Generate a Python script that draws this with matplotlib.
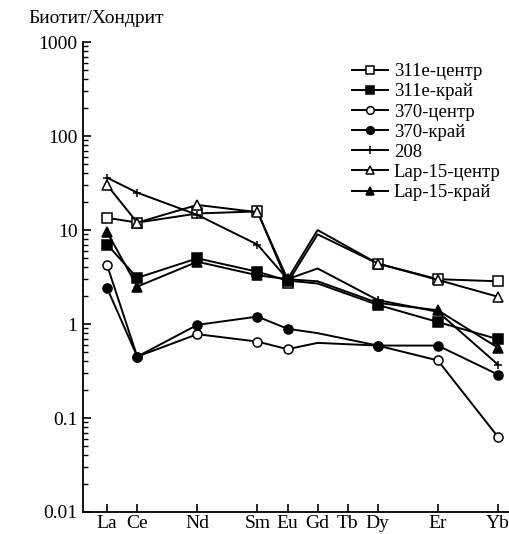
import numpy as np
import matplotlib.pyplot as plt
from matplotlib.ticker import LogLocator, NullFormatter, FixedLocator

plt.rcParams['font.family'] = ['Liberation Serif', 'DejaVu Serif']

# REE positions (gaps for missing elements)
elements = ["La", "Ce", "Nd", "Sm", "Eu", "Gd", "Tb", "Dy", "Er", "Yb"]
positions = [0, 1, 3, 5, 6, 7, 8, 9, 11, 13]

# elements that carry data
data_el = ["La", "Ce", "Nd", "Sm", "Eu", "Gd", "Dy", "Er", "Yb"]

s311c = [13.5, 12.0, 15.0, 15.8, 2.75, 9.0, 4.4, 3.0, 2.85]
s311r = [7.0, 3.1, 5.0, 3.6, 2.9, 2.7, 1.6, 1.05, 0.69]
s370c = [4.2, 0.45, 0.78, 0.65, 0.54, 0.63, 0.59, 0.41, 0.063]
s370r = [2.4, 0.45, 0.98, 1.2, 0.89, 0.80, 0.59, 0.59, 0.29]
s208 = [36, 25, 14.5, 7.0, 3.0, 3.9, 1.8, 1.35, 0.37]
lap_c = [30, 12.0, 18.5, 15.5, 3.0, 10.0, 4.4, 2.95, 1.95]
lap_r = [9.5, 2.5, 4.6, 3.3, 3.0, 2.85, 1.68, 1.4, 0.56]

labels = ["311e-центр", "311e-край", "370-центр", "370-край", "208",
          "Lap-15-центр", "Lap-15-край"]
series = [s311c, s311r, s370c, s370r, s208, lap_c, lap_r]
markers = ["s", "s", "o", "o", "+", "^", "^"]
fills = ["white", "black", "white", "black", "black", "white", "black"]

pos_of = dict(zip(elements, positions))
x = [pos_of[e] for e in data_el]
mark_idx = [i for i, e in enumerate(data_el) if e != "Gd"]

fig = plt.figure(figsize=(5.10, 5.34), dpi=100)
ax = fig.add_axes([0.163, 0.0412, 0.837, 0.880])

for y, lab, m, fc in zip(series, labels, markers, fills):
    ax.plot(x, y, color="black", lw=1.4, marker=m, mfc=fc, mec="black",
            ms=6.5 if m != "+" else 6, mew=1.1, markevery=mark_idx, label=lab)

ax.set_yscale("log")
ax.set_ylim(0.01, 1000)
ax.set_xlim(-0.8, 13.4)

ax.xaxis.set_major_locator(FixedLocator(positions))
ax.set_xticklabels(elements, fontsize=14)
ax.yaxis.set_major_locator(FixedLocator([0.01, 0.1, 1, 10, 100, 1000]))
ax.set_yticklabels(["0.01", "0.1", "1", "10", "100", "1000"], fontsize=14)
ax.yaxis.set_minor_locator(LogLocator(base=10, subs=np.arange(2, 10)))
ax.yaxis.set_minor_formatter(NullFormatter())

ax.tick_params(axis="both", which="major", direction="in", length=6, width=1.2, pad=4)
ax.tick_params(axis="y", which="minor", direction="in", length=3.5, width=1.0)
ax.tick_params(axis="x", pad=2)

for side in ["top", "right"]:
    ax.spines[side].set_visible(False)
for side in ["left", "bottom"]:
    ax.spines[side].set_linewidth(1.3)

ax.legend(loc="upper right", bbox_to_anchor=(1.0, 0.975), frameon=False,
          fontsize=13.5, handlelength=1.9, handletextpad=0.3,
          labelspacing=0.16, borderaxespad=0.1, markerscale=0.85)

fig.text(0.055, 0.965, "Биотит/Хондрит", fontsize=14, ha="left", va="center")

fig.savefig("out.png", dpi=100)
